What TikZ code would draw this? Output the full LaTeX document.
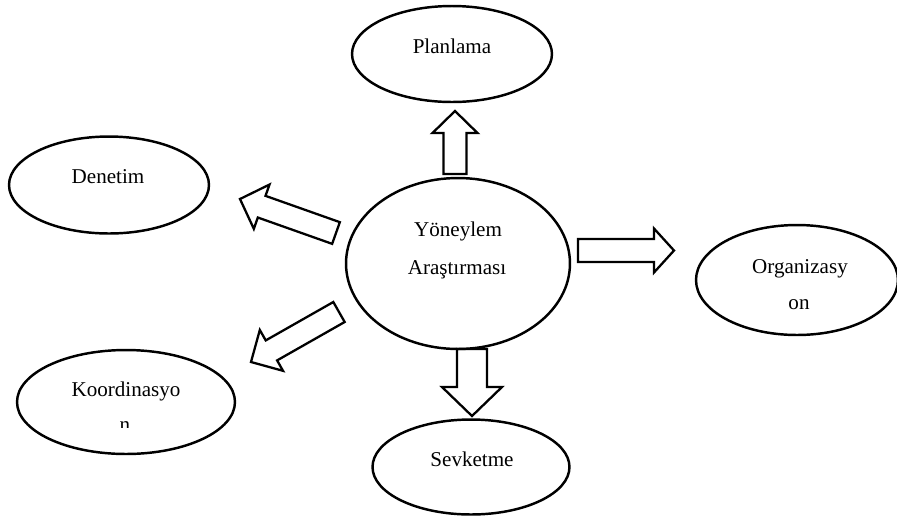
\documentclass[tikz,border=0pt]{standalone}
\usepackage{fontspec}
\setmainfont{Liberation Serif}
\usetikzlibrary{shapes.geometric,calc}

\tikzset{
  oval/.style={draw, ellipse, line width=1.4pt, inner sep=0pt},
  lbl/.style={anchor=base, font=\fontsize{12}{14}\selectfont},
  fat/.style={draw, line width=1.3pt, line join=miter}
}

% tail, tip, half shaft, half head, head length
\newcommand{\fatarrow}[5]{%
  \coordinate (h) at ($(#2)!#5!(#1)$);
  \draw[fat] ($(#1)!#3!90:(#2)$) -- ($(h)!#3!90:(#2)$) -- ($(h)!#4!90:(#2)$) -- (#2)
    -- ($(h)!#4!-90:(#2)$) -- ($(h)!#3!-90:(#2)$) -- ($(#1)!#3!-90:(#2)$) -- cycle;
}

\begin{document}
\begin{tikzpicture}
  [x=0.02cm, y=-0.02cm]
  \useasboundingbox (0,0) rectangle (897,515);

  \node[oval, minimum width=4cm, minimum height=1.92cm] (plan) at (452,54) {};
  \node[oval, minimum width=4cm, minimum height=1.94cm] (denet) at (109,185) {};
  \node[oval, minimum width=4.48cm, minimum height=3.42cm] (yon) at (458,263.5) {};
  \node[oval, minimum width=4.04cm, minimum height=2.2cm] (organ) at (797,280) {};
  \node[oval, minimum width=4.36cm, minimum height=2.08cm] (koord) at (126,402) {};
  \node[oval, minimum width=3.94cm, minimum height=1.9cm] (sevk) at (471,467) {};

  \node[lbl] (planT) at (452,53) {Planlama};
  \node[lbl] (denetT) at (108,183) {Denetim};
  \node[lbl] (yonT1) at (458,236) {Yöneylem};
  \node[lbl] (yonT2) at (457,274) {Araştırması};
  \node[lbl] (organT1) at (800,273) {Organizasy};
  \node[lbl] (organT2) at (799,309) {on};
  \node[lbl] (koordT1) at (126,396) {Koordinasyo};
  \begin{scope}
    \clip (100,415) rectangle (150,427.5);
    \node[lbl] (koordT2) at (125,431.5) {n};
  \end{scope}
  \node[lbl] (sevkT) at (472,466) {Sevketme};

  \coordinate (upTail) at (455,174);   \coordinate (upTip) at (455,111);
  \coordinate (dnTail) at (472,349);   \coordinate (dnTip) at (472,416);
  \coordinate (rtTail) at (578,250.5); \coordinate (rtTip) at (674,250.5);
  \coordinate (ulTail) at (336,233);   \coordinate (ulTip) at (240,199);
  \coordinate (llTail) at (339,312);   \coordinate (llTip) at (251,362);

  \foreach \from/\to/\hs/\hh/\hl in {upTail/upTip/0.23cm/0.45cm/0.44cm,
      dnTail/dnTip/0.3cm/0.6cm/0.58cm, rtTail/rtTip/0.23cm/0.44cm/0.4cm,
      ulTail/ulTip/0.23cm/0.47cm/0.46cm, llTail/llTip/0.23cm/0.47cm/0.47cm}
  {\fatarrow{\from}{\to}{\hs}{\hh}{\hl}}

\end{tikzpicture}
\end{document}
